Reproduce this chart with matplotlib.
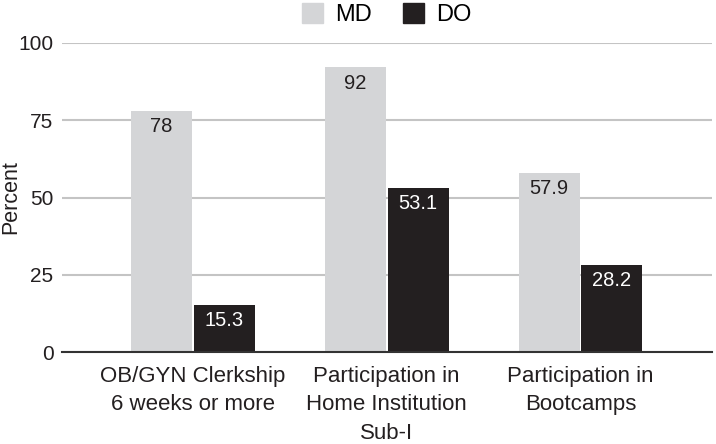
import numpy as np
import matplotlib
matplotlib.use("Agg")
import matplotlib.pyplot as plt
from matplotlib.patches import Patch

plt.rcParams['font.family'] = ['Liberation Sans', 'DejaVu Sans']

categories = ["OB/GYN Clerkship\n6 weeks or more",
              "Participation in\nHome Institution\nSub-I",
              "Participation in\nBootcamps"]
md_values = [78, 92, 57.9]
do_values = [15.3, 53.1, 28.2]
y_ticks = [0, 25, 50, 75, 100]

md_color = '#d4d5d7'
do_color = '#231f20'

fig = plt.figure(figsize=(7.16, 4.44), dpi=100)
ax = fig.add_axes([0.0862, 0.2065, 0.9078, 0.6973])

x = np.arange(len(categories))
w = 0.314
off = 0.162

ax.set_axisbelow(True)
ax.yaxis.grid(True, color='#c4c4c4', linewidth=1.5)
b1 = ax.bar(x - off, md_values, w, color=md_color)
b2 = ax.bar(x + off, do_values, w, color=do_color)

for xi, v in zip(x - off, md_values):
    ax.annotate(f"{v:g}", (xi, v), xytext=(0, -4.5), textcoords='offset points',
                ha='center', va='top', fontsize=14.5, color=do_color)
for xi, v in zip(x + off, do_values):
    ax.annotate(f"{v:g}", (xi, v), xytext=(0, -4.5), textcoords='offset points',
                ha='center', va='top', fontsize=14.5, color='white')

ax.set_xlim(-0.677, 2.677)
ax.set_ylim(0, 100)
ax.set_yticks(y_ticks)
ax.set_xticks(x)
ax.set_xticklabels(categories, fontsize=16, color='#231f20', linespacing=1.45)
ax.tick_params(axis='x', length=0, pad=10)
ax.tick_params(axis='y', length=0, pad=6, labelsize=15, labelcolor='#231f20')
for s in ['top', 'right', 'left']:
    ax.spines[s].set_visible(False)
ax.spines['bottom'].set_color('#333333')
ax.spines['bottom'].set_linewidth(1.5)

ax.set_ylabel("Percent", fontsize=15.5, color='#231f20', va='center')
ax.yaxis.set_label_coords(-0.078, 0.5)

handles = [Patch(color=md_color, label='MD'), Patch(color=do_color, label='DO')]
ax.legend(handles=handles, loc='center', bbox_to_anchor=(0.5, 1.09), ncol=2,
          frameon=False, fontsize=17, handlelength=0.9, handleheight=0.9,
          handletextpad=0.5, columnspacing=1.3)

fig.savefig('out.png', dpi=100)
